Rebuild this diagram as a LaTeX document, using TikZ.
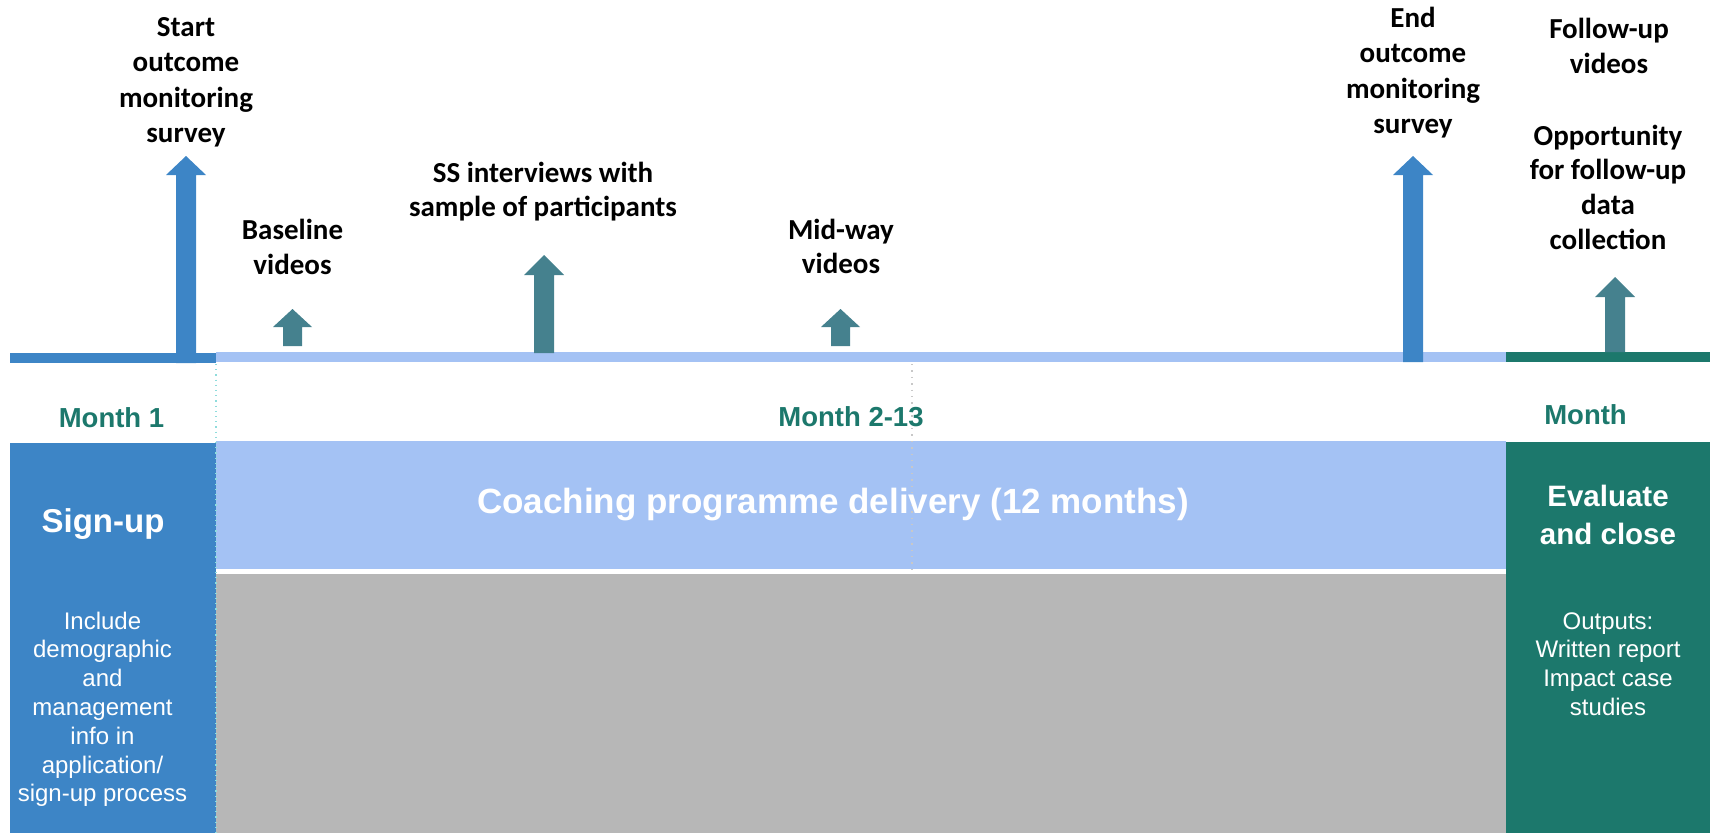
\documentclass[tikz,border=0pt]{standalone}
\usepackage{fontspec}
\setmainfont{Liberation Sans}
\newfontfamily\calfont{Carlito}
\newfontfamily\uifont{Liberation Sans}

\definecolor{signblue}{HTML}{3D85C6}
\definecolor{paleblue}{HTML}{A4C2F4}
\definecolor{closegreen}{HTML}{1C786C}
\definecolor{eventteal}{HTML}{45818E}
\definecolor{fillgray}{HTML}{B7B7B7}
\definecolor{dotcyan}{HTML}{8FDCDC}
\definecolor{dotgray}{HTML}{C8C8C8}

% centred lines, anchored on the baseline of the first line
\newcommand{\textstack}[2]{\vtop{\baselineskip=#1\lineskip=0pt\lineskiplimit=-100pt
  \halign{\hfil##\hfil\cr#2\crcr}}}

% block arrow pointing up: centre x, tip y, head base y, foot y, head half width, shaft half width, colour
\newcommand{\blockup}[7]{%
  \fill[#7] (#1,#2) -- (#1+#5,#3) -- (#1+#6,#3) -- (#1+#6,#4)
    -- (#1-#6,#4) -- (#1-#6,#3) -- (#1-#5,#3) -- cycle;}

\tikzset{
  eventtext/.style={inner sep=0pt, anchor=base, text=black,
    font=\calfont\bfseries\fontsize{29}{35.5}\selectfont},
  monthtext/.style={inner sep=0pt, anchor=base, text=closegreen,
    font=\uifont\bfseries\fontsize{27.5}{33}\selectfont},
  phasetitle/.style={inner sep=0pt, anchor=base, text=white,
    font=\uifont\bfseries\fontsize{33}{38}\selectfont},
  phasebody/.style={inner sep=0pt, anchor=base, text=white,
    font=\uifont\fontsize{24}{29}\selectfont},
}

\begin{document}
\begin{tikzpicture}[x=1pt,y=-1pt]
\useasboundingbox (0,0) rectangle (1710,833);

% timeline bar
\fill[signblue] (10,353) rectangle (216,363);
\fill[paleblue] (216,352) rectangle (1506,362);
\fill[closegreen] (1506,352) rectangle (1710,362);

% phase boxes
\fill[signblue] (10,443) rectangle (216,833);
\fill[paleblue] (216,441) rectangle (1506,569);
\fill[fillgray] (216,574) rectangle (1506,833);
\fill[closegreen] (1506,442) rectangle (1710,833);

% phase dividers
\draw[dotcyan, line width=1.2pt, dash pattern=on 1.2pt off 4pt] (216,364) -- (216,833);
\draw[dotgray, line width=1.4pt, dash pattern=on 1.4pt off 5pt] (912,364) -- (912,570);

% event arrows
\blockup{186}{156}{175}{363}{20}{10}{signblue}
\blockup{292.5}{309}{327}{346}{19.5}{9.5}{eventteal}
\blockup{544}{255}{275}{353}{20}{10}{eventteal}
\blockup{840.5}{309}{327}{346}{19.5}{9.5}{eventteal}
\blockup{1413}{156}{175}{362}{20}{10}{signblue}
\blockup{1615}{277}{297}{352}{20}{10}{eventteal}

% event labels
\node[eventtext] (start) at (186,36) {\textstack{35.5pt}{Start\cr outcome\cr monitoring\cr survey}};
\node[eventtext] (basevid) at (292.5,239) {\textstack{35pt}{Baseline\cr videos}};
\node[eventtext] (ssint) at (543,182) {\textstack{34.5pt}{SS interviews with\cr sample of participants}};
\node[eventtext] (midvid) at (841,239) {\textstack{34.5pt}{Mid-way\cr videos}};
\node[eventtext] (endsurvey) at (1413,27) {\textstack{35.5pt}{End\cr outcome\cr monitoring\cr survey}};
\node[eventtext] (followvid) at (1609,38) {\textstack{35pt}{Follow-up\cr videos}};
\node[eventtext] (followdata) at (1608,145) {\textstack{34.7pt}{Opportunity\cr for follow-up\cr data\cr collection}};

% month labels
\node[monthtext] (m1) at (111.5,427) {Month 1};
\node[monthtext] (m2) at (851,426) {Month 2-13};
\node[monthtext] (m3) at (1585.5,424) {Month};

% phase texts
\node[phasetitle] (signup) at (103,532) {Sign-up};
\node[phasebody] (signupbody) at (102.5,629) {\textstack{28.8pt}{Include\cr demographic\cr and\cr management\cr info in\cr application/\cr sign-up process}};
\node[phasetitle, font=\uifont\bfseries\fontsize{35}{40}\selectfont] (coaching) at (833,513) {Coaching programme delivery (12 months)};
\node[phasetitle, font=\uifont\bfseries\fontsize{29.5}{38}\selectfont] (evaluate) at (1608,506) {\textstack{38pt}{Evaluate\cr and close}};
\node[phasebody] (outputs) at (1608,629) {\textstack{28.7pt}{Outputs:\cr Written report\cr Impact case\cr studies}};
\end{tikzpicture}
\end{document}
